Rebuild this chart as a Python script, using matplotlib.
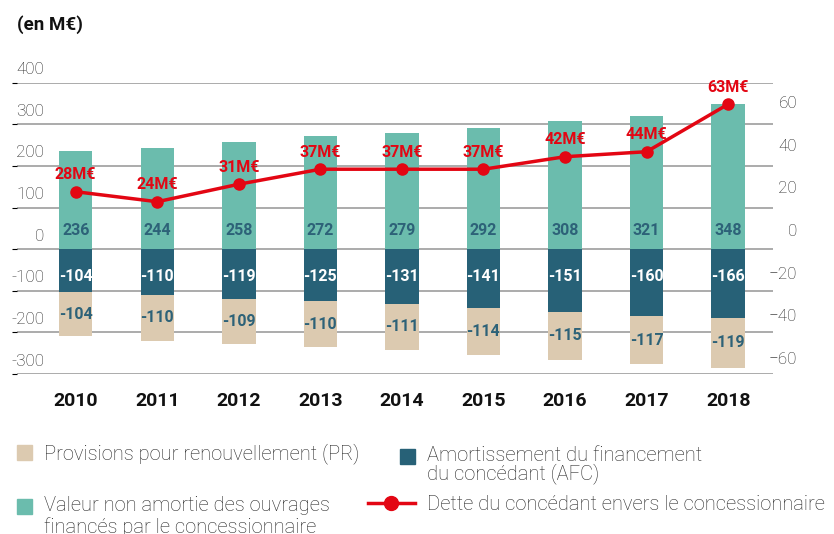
import numpy as np
import matplotlib
matplotlib.use('Agg')
import matplotlib.pyplot as plt
from matplotlib import transforms
from matplotlib.patches import Patch, Rectangle
from matplotlib.lines import Line2D
from matplotlib.legend_handler import HandlerPatch

# Data (en M€)
years = ['2010', '2011', '2012', '2013', '2014', '2015', '2016', '2017', '2018']
valeur = [236, 244, 258, 272, 279, 292, 308, 321, 348]        # Valeur non amortie
afc = [-104, -110, -119, -125, -131, -141, -151, -160, -166]  # Amortissement financement concédant
pr = [-104, -110, -109, -110, -111, -114, -115, -117, -119]   # Provisions pour renouvellement
dette = [28, 24, 31, 37, 37, 37, 42, 44, 63]                  # Dette du concédant

left_ticks = [-300, -200, -100, 0, 100, 200, 300, 400]
right_ticks = [-60, -40, -20, 0, 20, 40, 60]

# Colours / fonts
beige = '#DCCAB0'
teal = '#6BBCAD'
dark = '#276177'
red = '#E30613'
numblue = '#2D6278'
gridcol = '#ABABAB'
textcol = '#262626'

plt.rcParams['font.family'] = ['Roboto', 'DejaVu Sans']

fig = plt.figure(figsize=(8.34, 5.34), dpi=100)
ax = fig.add_axes([17 / 834, 1 - 374 / 534, 756 / 834, (374 - 82.7) / 534])

x = np.arange(len(years))
w = 0.41
ax.bar(x, valeur, w, color=teal, zorder=2)
ax.bar(x, afc, w, color=dark, zorder=2)
ax.bar(x, pr, w, bottom=afc, color=beige, zorder=2)

ax.set_xlim(-0.72, 8.55)
ax.set_ylim(-300, 400)
ax.set_yticks(left_ticks)
ax.set_axisbelow(True)
ax.yaxis.grid(True, color=gridcol, linewidth=1.4)
ax.tick_params(axis='y', left=False, labelleft=False)
for s in ax.spines.values():
    s.set_visible(False)
ax.set_xticks(x, years)
ax.tick_params(axis='x', length=0, pad=13)
for lab in ax.get_xticklabels():
    lab.set_fontweight('bold')
    lab.set_fontsize(14)
    lab.set_color('#111111')

# left axis labels sit above their gridlines
trans = transforms.offset_copy(ax.get_yaxis_transform(), fig=fig, x=27, y=13, units='dots')
for v in left_ticks:
    ax.text(0, v, str(v), transform=trans, ha='right', va='center',
            fontsize=12.3, fontweight='light', color=textcol)

# bar value labels
for xi, v, a, p in zip(x, valeur, afc, pr):
    ax.text(xi, 46, str(v), ha='center', va='center', fontsize=11.5,
            fontweight='bold', color=numblue, zorder=4)
    ax.text(xi, -65, str(a), ha='center', va='center', fontsize=11.5,
            fontweight='bold', color='white', zorder=4)
    ax.text(xi, a + p / 2, str(p), ha='center', va='center', fontsize=11.5,
            fontweight='bold', color=numblue, zorder=4)

# right axis (labels only)
ax3 = ax.twinx()
ax3.set_ylim(-67.5, 69.05)
ax3.set_yticks(right_ticks)
ax3.tick_params(axis='y', length=0, pad=17.3, labelsize=12.3, labelcolor=textcol)
for lab in ax3.get_yticklabels():
    lab.set_ha('right')
    lab.set_fontweight('light')
for s in ax3.spines.values():
    s.set_visible(False)

# debt line
ax2 = ax.twinx()
ax2.set_ylim(-44.9, 71.6)
ax2.set_axis_off()
ax2.plot(x, dette, color=red, linewidth=2.5, marker='o', markersize=8, zorder=5)
for xi, v in zip(x, dette):
    ax2.annotate(f'{v}M€', (xi, v), xytext=(0, 12.2), textcoords='offset points',
                 ha='center', va='center', color=red, fontweight='bold', fontsize=11.5)

fig.text(17 / 834, 1 - 24.5 / 534, '(en M€)', fontsize=13.5, fontweight='bold',
         color='#111111', va='center', ha='left')

# legend
lfs = 14.5


def square_at_right(shift):
    # square key drawn at the right end of the handle box, raised to the first text line
    def make(legend, orig_handle, xdescent, ydescent, width, height, fontsize):
        sz = 10.8
        return Rectangle((width - xdescent - sz, (height - sz) / 2 - ydescent + shift), sz, sz)
    return make


h_pr = Patch(color=beige)
h_val = Patch(color=teal)
h_afc = Patch(color=dark)
h_dette = Line2D([], [], color=red, linewidth=2.5, marker='o', markersize=10)

leg_kw = dict(loc='upper left', frameon=False, borderpad=0, borderaxespad=0,
              handlelength=2.33, handletextpad=0.58,
              prop={'weight': 'light', 'size': lfs})

leg1 = fig.legend([h_pr, h_val],
                  ['Provisions pour renouvellement (PR)',
                   'Valeur non amortie des ouvrages\nfinancés par le concessionnaire'],
                  bbox_to_anchor=(-15 / 834, 1 - 443 / 534), labelspacing=1.61,
                  handler_map={h_pr: HandlerPatch(patch_func=square_at_right(0)),
                               h_val: HandlerPatch(patch_func=square_at_right(7.8))},
                  **leg_kw)
leg2 = fig.legend([h_afc, h_dette],
                  ['Amortissement du financement\ndu concédant (AFC)',
                   'Dette du concédant envers le concessionnaire'],
                  bbox_to_anchor=(368 / 834, 1 - 446 / 534), labelspacing=0.525,
                  handler_map={h_afc: HandlerPatch(patch_func=square_at_right(6.2))},
                  **leg_kw)
for t in leg1.get_texts():
    t.set_color(textcol)
    t.set_linespacing(1.12)
for t in leg2.get_texts():
    t.set_color(textcol)
    t.set_linespacing(0.9)

fig.savefig('out.png', dpi=100)
